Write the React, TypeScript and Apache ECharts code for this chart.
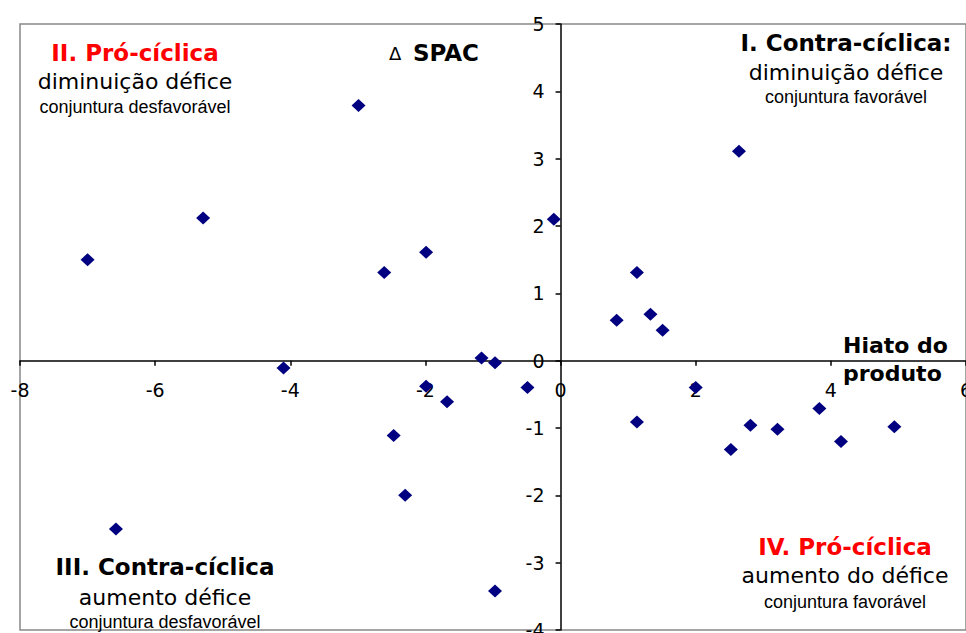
import React, { useEffect, useRef } from "react";
import * as echarts from "echarts";

const hiato: number[] = [-7.0, -5.29, -2.99, -2.61, -1.99, -4.1, -1.17, -0.97, -1.99, -1.68, -0.49, -0.1, -2.47, -2.3, -0.97, -6.58, 2.64, 1.13, 0.83, 1.33, 1.51, 2.0, 1.13, 2.52, 2.81, 3.21, 3.83, 4.15, 4.94];
const spac: number[] = [1.5, 2.12, 3.79, 1.31, 1.61, -0.11, 0.04, -0.03, -0.38, -0.61, -0.4, 2.1, -1.11, -2.0, -3.42, -2.5, 3.11, 1.31, 0.6, 0.69, 0.45, -0.4, -0.91, -1.32, -0.96, -1.02, -0.71, -1.2, -0.98];

const xTicks = { min: -8, max: 6, interval: 2 };
const yTicks = { min: -4, max: 5, interval: 1 };

const quadrantTitles = ["II. Pró-cíclica", "I. Contra-cíclica:", "III. Contra-cíclica", "IV. Pró-cíclica"];
const quadrantLine2 = ["diminuição défice", "diminuição défice", "aumento défice", "aumento do défice"];
const quadrantLine3 = ["conjuntura desfavorável", "conjuntura favorável", "conjuntura desfavorável", "conjuntura favorável"];

const F = "Verdana, 'DejaVu Sans', sans-serif";
const F3 = "Arial, 'Liberation Sans', sans-serif";

const W = 966;
const H = 633;
const G = { left: 20, top: 24, right: 0, bottom: 3 };

export default function App() {
  const ref = useRef<HTMLDivElement>(null);
  useEffect(() => {
    document.body.style.margin = "0";
    const chart = echarts.init(ref.current!, null, { renderer: "svg" });
    const data = hiato.map((x, i) => [x, spac[i]]);
    const gw = W - G.left - G.right;
    const gh = H - G.top - G.bottom;
    // move the axes so that they cross at zero, labels travelling with them
    const yOffset = -gw * (0 - xTicks.min) / (xTicks.max - xTicks.min);
    const xOffset = -gh * (0 - yTicks.min) / (yTicks.max - yTicks.min);
    const pos = [
      { cx: 135, y: [53, 81, 107], red: true },
      { cx: 846, y: [43, 72, 97], red: false },
      { cx: 165, y: [567, 597, 622], red: false },
      { cx: 845, y: [547, 575, 602], red: true },
    ];
    const graphics: any[] = [];
    pos.forEach((p, i) => {
      graphics.push({
        type: "text",
        x: p.cx,
        y: p.y[0],
        style: { text: quadrantTitles[i], fill: p.red ? "#ff0000" : "#000", font: `bold 23px ${F}`, textAlign: "center", textVerticalAlign: "middle" },
      });
      graphics.push({
        type: "text",
        x: p.cx,
        y: p.y[1],
        style: { text: quadrantLine2[i], fill: "#000", font: `22px ${F}`, textAlign: "center", textVerticalAlign: "middle" },
      });
      graphics.push({
        type: "text",
        x: p.cx,
        y: p.y[2],
        style: { text: quadrantLine3[i], fill: "#000", font: `18px ${F3}`, textAlign: "center", textVerticalAlign: "middle" },
      });
    });
    graphics.push({
      type: "text",
      x: 389,
      y: 53,
      style: { text: "Δ", fill: "#000", font: `18px ${F}`, textAlign: "left", textVerticalAlign: "middle" },
    });
    graphics.push({
      type: "text",
      x: 413,
      y: 53,
      style: { text: "SPAC", fill: "#000", font: `bold 23px ${F}`, textAlign: "left", textVerticalAlign: "middle" },
    });
    graphics.push({
      type: "text",
      x: 843,
      y: 345,
      style: { text: "Hiato do", fill: "#000", font: `bold 22px ${F}`, textAlign: "left", textVerticalAlign: "middle" },
    });
    graphics.push({
      type: "text",
      x: 843,
      y: 373,
      style: { text: "produto", fill: "#000", font: `bold 22px ${F}`, textAlign: "left", textVerticalAlign: "middle" },
    });

    chart.setOption({
      animation: false,
      backgroundColor: "#fff",
      grid: {
        left: G.left,
        top: G.top,
        right: G.right,
        bottom: G.bottom,
        containLabel: false,
        outerBoundsMode: "none",
        show: true,
        borderColor: "#888",
        borderWidth: 1.5,
        backgroundColor: "transparent",
      },
      xAxis: {
        type: "value",
        position: "bottom",
        offset: xOffset,
        min: xTicks.min,
        max: xTicks.max,
        interval: xTicks.interval,
        axisLine: { onZero: false, lineStyle: { color: "#000", width: 1.5 } },
        axisTick: { show: true, inside: false, length: 5, lineStyle: { color: "#000", width: 1.5 } },
        axisLabel: { color: "#000", fontSize: 19, fontFamily: F, margin: 20, hideOverlap: false, showMinLabel: true, showMaxLabel: true },
        splitLine: { show: false },
      },
      yAxis: {
        type: "value",
        position: "left",
        offset: yOffset,
        min: yTicks.min,
        max: yTicks.max,
        interval: yTicks.interval,
        axisLine: { onZero: false, lineStyle: { color: "#000", width: 1.5 } },
        axisTick: { show: true, inside: false, length: 5, lineStyle: { color: "#000", width: 1.5 } },
        axisLabel: { color: "#000", fontSize: 19, fontFamily: F, margin: 16, hideOverlap: false, showMinLabel: true, showMaxLabel: true },
        splitLine: { show: false },
      },
      series: [
        {
          type: "scatter",
          data,
          symbol: "diamond",
          symbolSize: [14, 13],
          itemStyle: { color: "#000080", opacity: 1 },
          z: 3,
        },
      ],
      graphic: graphics,
    });
    return () => chart.dispose();
  }, []);
  return <div ref={ref} style={{ width: W, height: H }} />;
}
